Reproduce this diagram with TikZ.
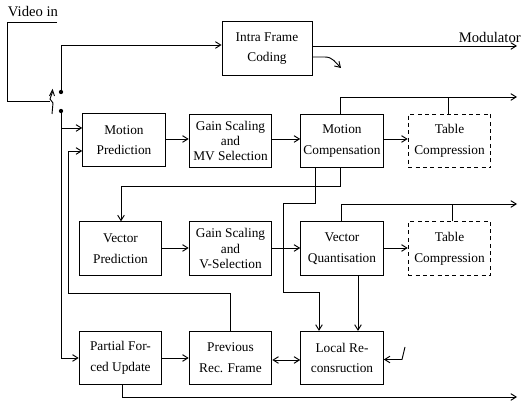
\documentclass[tikz,border=0pt]{standalone}
\usepackage{fontspec}
\setmainfont{Liberation Serif}
\usetikzlibrary{arrows.meta}
\tikzset{
  blk/.style={draw, line width=0.7pt, minimum width=62pt, minimum height=40pt,
    inner sep=0pt, align=center, font=\fontsize{10}{15.5}\selectfont},
  blk3/.style={blk, font=\fontsize{10}{11.5}\selectfont},
  dblk/.style={blk, dashed, dash pattern=on 3pt off 2.5pt},
  lbl/.style={inner sep=0pt, font=\fontsize{11}{13}\selectfont},
  wire/.style={line width=0.7pt},
  flow/.style={wire, -{Straight Barb[length=4pt,width=5pt]}},
  dot/.style={circle, fill, inner sep=0pt, minimum size=3.2pt},
}
\begin{document}
\begin{tikzpicture}[x=0.75pt, y=-0.75pt]
\useasboundingbox (0,0) rectangle (522,406);

% processing blocks
\node[blk, minimum width=67.5pt] (intra) at (267,48.5) {Intra Frame\\Coding};
\node[blk] (mp)  at (124,140)   {Motion\\Prediction};
\node[blk3] (gs1) at (230.5,141) {Gain Scaling\\and\\MV Selection};
\node[blk] (mc)  at (342,141)   {Motion\\Compensation};
\node[dblk] (tc1) at (449.5,141) {Table\\Compression};

\node[blk] (vp)  at (120.5,248.5) {Vector\\Prediction};
\node[blk3] (gs2) at (230.5,248.5) {Gain Scaling\\and\\V-Selection};
\node[blk] (vq)  at (342,248.5)   {Vector\\Quantisation};
\node[dblk] (tc2) at (449.5,248.5) {Table\\Compression};

\node[blk] (pfu) at (120.5,358) {Partial For-\\ced Update};
\node[blk] (prf) at (230.5,358) {Previous\\Rec. Frame};
\node[blk] (lr)  at (342,358)   {Local Re-\\consruction};

% labels
\node[lbl] (vin) at (33,12) {Video in};
\node[lbl, anchor=east] (mod) at (521,37) {Modulator};

% input and selector switch
\coordinate (vinA) at (57,22);
\coordinate (sw) at (50,101);
\draw[wire] (vinA) -- (7,22) -- (7,101) -- (sw);
\draw[wire] (52,114) -- (53,103) -- (50,99) -- (52.5,92);
\draw[wire] (49.5,96) -- (52.5,90) -- (54.5,96);
\node[dot] (sa) at (61,92) {};
\node[dot] (sb) at (61,111) {};

% intra path
\draw[flow] (sa) -- (61,45) -- (intra.west |- 0,45);
\coordinate (modEnd) at (517,46);
\draw[flow] (intra.east |- 0,46) -- (modEnd);
\coordinate (intraOut) at (341,68);
\draw[flow] (intra.east |- 0,57) -- (325,57) to[out=0, in=135] (intraOut);

% inter path
\draw[flow] (sb) -- (61,358) -- (pfu.west);
\draw[flow] (61,128) -- (mp.west |- 0,128);
\draw[flow] (prf.north) -- (prf.north |- 0,293) -- (68,293) -- (68,151) -- (mp.west |- 0,151);

\draw[flow] (mp.east |- 0,139) -- (gs1.west |- 0,139);
\draw[flow] (gs1.east |- 0,139) -- (mc.west |- 0,139);
\draw[flow] (mc.east |- 0,139) -- (tc1.west |- 0,139);

\coordinate (out1) at (517,97);
\draw[flow] (mc.north -| 340,0) -- (340,97) -- (out1);
\draw[wire] (tc1.north -| 448,0) -- (448,97);

\draw[flow] (mc.south -| 340,0) -- (340,186) -- (121,186) -- (vp.north -| 121,0);
\draw[flow] (mc.south -| 315,0) -- (315,203) -- (283,203) -- (283,292) -- (319,292) -- (lr.north -| 319,0);

\draw[flow] (vp.east |- 0,248) -- (gs2.west |- 0,248);
\draw[flow] (gs2.east |- 0,248) -- (vq.west |- 0,248);
\draw[flow] (vq.east |- 0,248) -- (tc2.west |- 0,248);

\coordinate (out2) at (517,204);
\draw[flow] (vq.north -| 341,0) -- (341,204) -- (out2);
\draw[wire] (tc2.north -| 452,0) -- (452,204);

\draw[flow] (vq.south -| 358,0) -- (lr.north -| 358,0);

% reconstruction loop
\draw[flow] (pfu.east) -- (prf.west);
\draw[wire, {Straight Barb[length=4pt,width=5pt]}-{Straight Barb[length=4pt,width=5pt]}] (prf.east |- 0,360) -- (lr.west |- 0,360);
\coordinate (lrIn) at (405,347);
\draw[flow] (lrIn) -- (402,359.5) -- (lr.east |- 0,359.5);

\coordinate (out3) at (517,397);
\draw[flow] (pfu.south -| 122,0) -- (122,397) -- (out3);
\end{tikzpicture}
\end{document}
